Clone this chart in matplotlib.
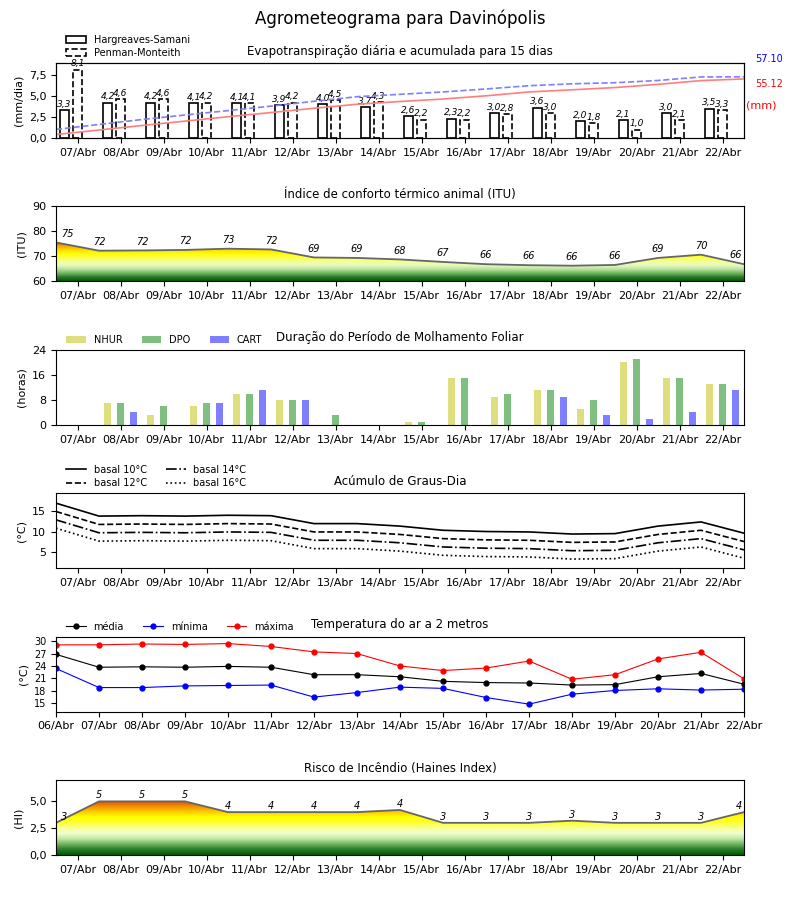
import numpy as np
import matplotlib
matplotlib.use("Agg")
from matplotlib import pyplot as plt
from matplotlib.patches import Polygon, Patch
from matplotlib.colors import LinearSegmentedColormap, Normalize
from matplotlib.ticker import FuncFormatter

# datas
dias_temp = ["06/Abr", "07/Abr", "08/Abr", "09/Abr", "10/Abr", "11/Abr", "12/Abr", "13/Abr", "14/Abr",
             "15/Abr", "16/Abr", "17/Abr", "18/Abr", "19/Abr", "20/Abr", "21/Abr", "22/Abr"]
dias = dias_temp[1:]

# evapotranspiracao (mm/dia)
et_hs = [3.3, 4.2, 4.2, 4.1, 4.1, 3.9, 4.0, 3.7, 2.6, 2.3, 3.0, 3.6, 2.0, 2.1, 3.0, 3.5]
et_pm = [8.1, 4.6, 4.6, 4.2, 4.1, 4.2, 4.5, 4.3, 2.2, 2.2, 2.8, 3.0, 1.8, 1.0, 2.1, 3.3]
acum_hs_total = 55.12
acum_pm_total = 57.10

# indice de conforto termico (ITU)
itu = [75.6, 72.3, 72.4, 72.6, 73.1, 72.8, 69.6, 69.4, 68.8, 67.8, 66.9, 66.5, 66.3, 66.6, 69.4, 70.7, 66.9]

# molhamento foliar (horas)
nhur = [0, 7, 3, 6, 10, 8, 0, 0, 1, 15, 9, 11, 5, 20, 15, 13]
dpo = [0, 7, 6, 7, 10, 8, 3, 0, 1, 15, 10, 11, 8, 21, 15, 13]
cart = [0, 4, 0, 7, 11, 8, 0, 0, 0, 0, 0, 9, 3, 2, 4, 11]

# graus-dia
gd10 = [16.8, 13.7, 13.8, 13.7, 13.9, 13.8, 11.9, 11.9, 11.3, 10.3, 10.0, 9.9, 9.4, 9.5, 11.3, 12.3, 9.6]
gd12 = [14.8, 11.7, 11.8, 11.7, 11.9, 11.8, 9.9, 9.9, 9.3, 8.3, 8.0, 7.9, 7.4, 7.5, 9.3, 10.3, 7.6]
gd14 = [12.8, 9.7, 9.8, 9.7, 9.9, 9.8, 7.9, 7.9, 7.3, 6.3, 6.0, 5.9, 5.4, 5.5, 7.3, 8.3, 5.6]
gd16 = [10.8, 7.7, 7.8, 7.7, 7.9, 7.8, 5.9, 5.9, 5.3, 4.3, 4.0, 3.9, 3.4, 3.5, 5.3, 6.3, 3.6]

# temperatura do ar
t_med = [26.8, 23.7, 23.8, 23.7, 23.9, 23.7, 21.9, 21.9, 21.4, 20.3, 20.0, 19.9, 19.4, 19.5, 21.4, 22.2, 19.6]
t_min = [23.4, 18.8, 18.8, 19.2, 19.3, 19.4, 16.5, 17.6, 18.9, 18.6, 16.4, 14.8, 17.2, 18.1, 18.5, 18.2, 18.4]
t_max = [29.1, 29.1, 29.3, 29.2, 29.4, 28.7, 27.4, 27.0, 24.0, 22.9, 23.5, 25.2, 20.8, 21.9, 25.7, 27.3, 20.9]

# risco de incendio (Haines)
haines = [3.0, 5.0, 5.0, 5.0, 4.0, 4.0, 4.0, 4.0, 4.2, 3.0, 3.0, 3.0, 3.2, 3.0, 3.0, 3.0, 4.0]


def virgula(v, p):
    return ("%.1f" % v).replace(".", ",")


def gradient_fill(ax, x, y, stops, ylim):
    vmin, vmax = ylim
    cmap = LinearSegmentedColormap.from_list(
        "g", [((v - vmin) / (vmax - vmin), c) for v, c in stops])
    verts = [(x[0], vmin)] + list(zip(x, y)) + [(x[-1], vmin)]
    poly = Polygon(verts, closed=True, facecolor="none", edgecolor="none")
    ax.add_patch(poly)
    grad = np.linspace(vmin, vmax, 300).reshape(-1, 1)
    im = ax.imshow(grad, aspect="auto", cmap=cmap, origin="lower",
                   extent=[x[0], x[-1], vmin, vmax], norm=Normalize(vmin, vmax))
    im.set_clip_path(poly)
    ax.plot(x, y, color="0.4", lw=1.3)


def eixo_dias(ax):
    ax.set_xticks(np.arange(len(dias)) + 0.5)
    ax.set_xticklabels(dias, fontsize=8)
    ax.set_xlim(0, len(dias))


def rotulos(ax, x, vals, dy):
    # rotulos inteiros em italico, os das pontas encostados para dentro
    n = len(vals)
    for i, v in enumerate(vals):
        ha = "center"
        xx = x[i]
        if i == 0:
            ha = "left"
            xx = 0.12
        if i == n - 1:
            ha = "right"
            xx = n - 1.05
        ax.text(xx, v + dy, "%d" % int(v), ha=ha, va="bottom", fontsize=7, style="italic")


fig, axs = plt.subplots(6, 1, figsize=(8, 9), dpi=100)
plt.subplots_adjust(top=0.93, bottom=0.05, left=0.07, right=0.93, hspace=0.91)
fig.suptitle("Agrometeograma para Davinópolis", fontsize=12, y=0.99)

xd = np.arange(len(dias)) + 0.5
xt = np.arange(len(dias_temp))
leg_kw = dict(fontsize=7, frameon=False, loc="lower left", bbox_to_anchor=(0.008, 1.0),
              borderaxespad=0.1)

# ---- evapotranspiracao
ax = axs[0]
w = 0.22
ax.bar(xd - 0.3, et_hs, w, facecolor="white", edgecolor="black", lw=1.2)
ax.bar(xd, et_pm, w, facecolor="white", edgecolor="black", lw=1.2, linestyle="--")
for i in range(len(dias)):
    ax.text(xd[i] - 0.3, et_hs[i] + 0.15, virgula(et_hs[i], 0), ha="center", va="bottom",
            fontsize=6.5, style="italic")
    ax.text(xd[i], et_pm[i] + 0.15, virgula(et_pm[i], 0), ha="center", va="bottom",
            fontsize=6.5, style="italic")
ax.set_ylim(0, 8.9)
ax.set_yticks([0, 2.5, 5, 7.5])
ax.yaxis.set_major_formatter(FuncFormatter(virgula))
ax.set_ylabel("(mm/dia)", fontsize=8)
eixo_dias(ax)
ax2 = ax.twinx()
xa = list(np.arange(len(dias))) + [len(dias)]
ax2.plot(xa, list(np.cumsum(et_pm)) + [acum_pm_total], color="#7f7fff", ls="--", lw=1.2)
ax2.plot(xa, list(np.cumsum(et_hs)) + [acum_hs_total], color="#ff7f7f", lw=1.2)
ax2.set_ylim(0, 70)
ax2.set_yticks([])
ax2.set_xlim(0, len(dias))
ax.text(1.016, 1.01, "%.2f" % acum_pm_total, color="blue", fontsize=7, transform=ax.transAxes)
ax.text(1.016, 0.68, "%.2f" % acum_hs_total, color="red", fontsize=7, transform=ax.transAxes)
ax.text(1.003, 0.40, "(mm)", color="red", fontsize=8, transform=ax.transAxes)
ax.set_title("Evapotranspiração diária e acumulada para 15 dias", fontsize=8.5)
hnd = [Patch(facecolor="white", edgecolor="black", lw=1.2),
       Patch(facecolor="white", edgecolor="black", lw=1.2, linestyle="--")]
ax.legend(hnd, ["Hargreaves-Samani", "Penman-Monteith"], labelspacing=0.35, **leg_kw)

# ---- ITU
ax = axs[1]
itu_stops = [(60, "#005a00"), (61.5, "#2a7d2a"), (63, "#6fb55f"), (64.5, "#b5e09a"),
             (66, "#e6f7c0"), (67.5, "#f2ffa0"), (69, "#fbff50"), (70.5, "#ffff10"),
             (72, "#ffe400"), (73.5, "#f8b000"), (75, "#e07010"), (77, "#c04000"),
             (90, "#800000")]
gradient_fill(ax, xt, itu, itu_stops, (60, 90))
rotulos(ax, xt, itu, 1.5)
ax.set_ylim(60, 90)
ax.set_yticks([60, 70, 80, 90])
ax.set_ylabel("(ITU)", fontsize=8)
eixo_dias(ax)
ax.set_title("Índice de conforto térmico animal (ITU)", fontsize=8.5)

# ---- molhamento foliar
ax = axs[2]
wb = 0.16
ax.bar(xd - 0.3, nhur, wb, color="y", alpha=0.5, label="NHUR")
ax.bar(xd, dpo, wb, color="g", alpha=0.5, label="DPO")
ax.bar(xd + 0.3, cart, wb, color="b", alpha=0.5, label="CART")
ax.set_ylim(0, 24)
ax.set_yticks([0, 8, 16, 24])
ax.set_ylabel("(horas)", fontsize=8)
eixo_dias(ax)
ax.set_title("Duração do Período de Molhamento Foliar", fontsize=8.5)
ax.legend(ncol=3, **leg_kw)

# ---- graus-dia
ax = axs[3]
ax.plot(xt, gd10, "k-", lw=1.2, label="basal 10°C")
ax.plot(xt, gd12, "k--", lw=1.2, label="basal 12°C")
ax.plot(xt, gd14, "k-.", lw=1.2, label="basal 14°C")
ax.plot(xt, gd16, "k:", lw=1.2, label="basal 16°C")
ax.set_ylim(1.2, 19.2)
ax.set_yticks([5, 10, 15])
ax.set_ylabel("(°C)", fontsize=8)
eixo_dias(ax)
ax.set_title("Acúmulo de Graus-Dia", fontsize=8.5)
ax.legend(ncol=2, labelspacing=0.35, **leg_kw)

# ---- temperatura
ax = axs[4]
ax.plot(xt, t_med, "k-o", ms=3.5, lw=0.8, label="média")
ax.plot(xt, t_min, "b-o", ms=3.5, lw=0.8, label="mínima")
ax.plot(xt, t_max, "r-o", ms=3.5, lw=0.8, label="máxima")
ax.set_xlim(0, len(dias_temp) - 1)
ax.set_xticks(xt)
ax.set_xticklabels(dias_temp, fontsize=8)
ax.set_ylim(13, 31.1)
ax.set_yticks([15, 18, 21, 24, 27, 30])
ax.set_ylabel("(°C)", fontsize=8)
ax.set_title("Temperatura do ar a 2 metros", fontsize=8.5)
ax.legend(ncol=3, **leg_kw)

# ---- Haines
ax = axs[5]
hi_stops = [(0, "#005a00"), (0.5, "#2a7d2a"), (1, "#6fb55f"), (1.5, "#c0e8a8"),
            (2, "#f0ffd0"), (2.5, "#f8ff90"), (3, "#ffff30"), (3.5, "#ffff00"),
            (4, "#ffc800"), (4.5, "#f09000"), (5, "#d05010"), (7, "#a03000")]
gradient_fill(ax, xt, haines, hi_stops, (0, 7))
rotulos(ax, xt, haines, 0.1)
ax.set_ylim(0, 7)
ax.set_yticks([0, 2.5, 5])
ax.yaxis.set_major_formatter(FuncFormatter(virgula))
ax.set_ylabel("(HI)", fontsize=8)
eixo_dias(ax)
ax.set_title("Risco de Incêndio (Haines Index)", fontsize=8.5)

for a in axs:
    a.tick_params(axis="y", labelsize=7 if a is axs[4] else 8)

fig.savefig("out.png", dpi=100)
